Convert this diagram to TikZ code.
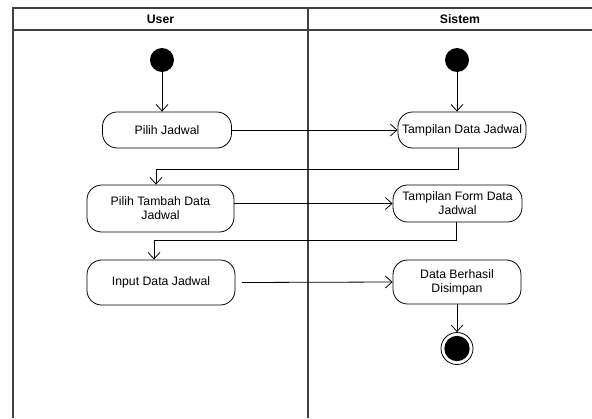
\documentclass[tikz,border=0pt]{standalone}
\usepackage{fontspec}
\setmainfont{Liberation Sans}
\usetikzlibrary{arrows.meta}

\tikzset{
	act/.style={draw, rounded corners=11pt, inner sep=0pt, align=center, line width=0.6pt,
		font=\fontsize{9.2}{10.5}\selectfont},
	initial/.style={circle, fill, inner sep=0pt, minimum size=18pt},
	final/.style={circle, draw, line width=0.6pt, inner sep=0pt, minimum size=24pt,
		path picture={\fill (path picture bounding box.center) circle (9.5pt);}},
	flow/.style={-{Straight Barb[length=5pt,width=9pt]}, line width=0.6pt},
	lane/.style={draw=black!75, line width=0.9pt}
}

\begin{document}
\begin{tikzpicture}[x=0.75pt,y=0.75pt,yscale=-1,xscale=1]
	\useasboundingbox (0,0) rectangle (592,418);

	%Swimlanes
	\draw [lane] (13,418) -- (13,8) -- (592,8) ;
	\draw [lane] (13,30) -- (592,30) ;
	\draw [lane] (308,8) -- (308,418) ;

	% Lane titles
	\node [font=\fontsize{9.2}{11}\selectfont\bfseries] (user) at (160.5,19) {User};
	\node [font=\fontsize{9.2}{11}\selectfont\bfseries] (sistem) at (460,19) {Sistem};

	% User lane
	\node [initial] (s1) at (162,60) {};
	\node [act, minimum width=96.75pt, minimum height=27pt] (a1) at (167,130) {Pilih Jadwal};
	\node [act, minimum width=110.25pt, minimum height=35.25pt] (a2) at (160.5,208.5) {Pilih Tambah Data\\Jadwal};
	\node [act, minimum width=111pt, minimum height=33.75pt] (a3) at (161,282.5) {Input Data Jadwal};

	% Sistem lane
	\node [initial] (s2) at (457,60) {};
	\node [act, minimum width=96pt, minimum height=27pt] (b1) at (462,130) {Tampilan Data Jadwal};
	\node [act, minimum width=96.75pt, minimum height=27.75pt] (b2) at (457.5,203.5) {Tampilan Form Data\\Jadwal};
	\node [act, minimum width=96pt, minimum height=33pt] (b3) at (457,282) {Data Berhasil\\Disimpan};
	\node [final] (e) at (457,348.5) {};

	% bends of the return flows
	\coordinate (k1) at (156,169.5);
	\coordinate (k2) at (154,240);

	%Straight Lines
	\draw [flow] (s1) -- (s1 |- a1.north) ;
	\draw [flow] (s2) -- (s2 |- b1.north) ;
	\draw [flow] (a1.east) -- (b1.west) ;
	\draw [flow] ([xshift=-3]b1.south) |- (k1) -- (k1 |- a2.north) ;
	\draw [flow] (a2.east |- b2) -- (b2.west) ;
	\draw [flow] ([xshift=-1]b2.south) |- (k2) -- (k2 |- a3.north) ;
	\draw [flow] ([xshift=5]a3.east) -- (b3.west) ;
	\draw [flow] (b3.south) -- (e.north) ;

\end{tikzpicture}
\end{document}
